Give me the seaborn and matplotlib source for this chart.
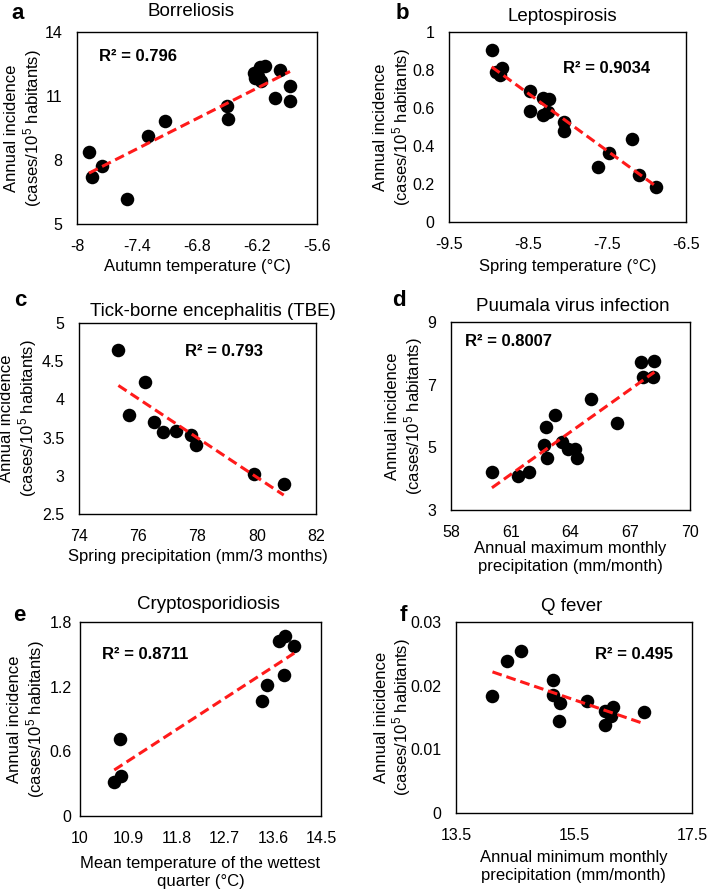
import matplotlib
matplotlib.use("Agg")
import matplotlib.pyplot as plt
from matplotlib.ticker import FuncFormatter
import seaborn as sns

# values
bor_x = [-7.88, -7.85, -7.75, -7.50, -7.29, -7.12, -6.50, -6.49, -6.23, -6.22, -6.17,
         -6.12, -6.16, -6.19, -5.97, -6.02, -5.87, -5.87]
bor_y = [8.38, 7.21, 7.73, 6.18, 9.13, 9.83, 10.52, 9.94, 12.08, 11.82, 12.36,
         12.41, 11.71, 11.95, 12.21, 10.91, 11.46, 10.76]

lep_x = [-8.96, -8.90, -8.83, -8.85, -8.47, -8.48, -8.31, -8.23, -8.31, -8.25, -8.04,
         -8.04, -7.47, -7.62, -7.19, -7.10, -6.88]
lep_y = [0.907, 0.792, 0.810, 0.776, 0.692, 0.586, 0.651, 0.650, 0.562, 0.581, 0.528,
         0.481, 0.364, 0.290, 0.438, 0.246, 0.185]

tbe_x = [75.33, 76.23, 75.70, 76.54, 76.85, 77.28, 77.77, 77.94, 79.92, 80.91]
tbe_y = [4.64, 4.23, 3.80, 3.70, 3.57, 3.58, 3.54, 3.40, 3.03, 2.89]

puu_x = [60.06, 61.39, 61.90, 62.78, 62.68, 62.82, 63.23, 63.57, 63.90, 64.24, 64.32,
         65.02, 66.33, 67.55, 67.67, 68.22, 68.13]
puu_y = [4.22, 4.09, 4.22, 5.64, 5.08, 4.65, 6.04, 5.18, 4.94, 4.94, 4.65,
         6.55, 5.77, 7.72, 7.26, 7.77, 7.26]

cry_x = [10.64, 10.76, 10.74, 13.40, 13.50, 13.80, 13.72, 13.82, 14.00]
cry_y = [0.313, 0.372, 0.716, 1.063, 1.215, 1.310, 1.620, 1.667, 1.574]

qf_x = [14.12, 14.36, 14.61, 15.14, 15.15, 15.27, 15.24, 15.72, 16.02, 16.16, 16.13,
        16.02, 16.68]
qf_y = [0.01843, 0.02393, 0.02539, 0.02094, 0.01859, 0.01728, 0.0144, 0.01764, 0.01597,
        0.0166, 0.0153, 0.01377, 0.01586]

titles = ["Borreliosis", "Leptospirosis", "Tick-borne encephalitis (TBE)",
          "Puumala virus infection", "Cryptosporidiosis", "Q fever"]
letters = ["a", "b", "c", "d", "e", "f"]
r2_labels = ["R² = 0.796", "R² = 0.9034", "R² = 0.793", "R² = 0.8007", "R² = 0.8711", "R² = 0.495"]
xlabels = ["Autumn temperature (°C)", "Spring temperature (°C)",
           "Spring precipitation (mm/3 months)",
           "Annual maximum monthly\nprecipitation (mm/month)",
           "Mean temperature of the wettest\nquarter (°C)",
           "Annual minimum monthly\nprecipitation (mm/month)"]
ylabel = "Annual incidence\n(cases/10$^5$ habitants)"
ylabel_f = "Annual inicidence\n(cases/10$^5$ habitants)"
xticks = [[-8, -7.4, -6.8, -6.2, -5.6], [-9.5, -8.5, -7.5, -6.5], [74, 76, 78, 80, 82],
          [58, 61, 64, 67, 70], [10, 10.9, 11.8, 12.7, 13.6, 14.5], [13.5, 15.5, 17.5]]
yticks = [[5, 8, 11, 14], [0, 0.2, 0.4, 0.6, 0.8, 1], [2.5, 3, 3.5, 4, 4.5, 5],
          [3, 5, 7, 9], [0, 0.6, 1.2, 1.8], [0, 0.01, 0.02, 0.03]]

sns.set_style("white")
plt.rcParams['font.family'] = ['Liberation Sans', 'DejaVu Sans']
plt.rcParams['mathtext.fontset'] = 'custom'
plt.rcParams['mathtext.rm'] = 'Liberation Sans'
plt.rcParams['mathtext.it'] = 'Liberation Sans'
for key in ['text.color', 'axes.labelcolor', 'xtick.color', 'ytick.color']:
    plt.rcParams[key] = 'black'

fig = plt.figure(figsize=(7.09, 8.91), dpi=100)

# axes boxes [left, bottom, width, height] in figure fractions
boxes = [[0.1086, 0.7486, 0.3385, 0.2155], [0.6333, 0.7508, 0.3343, 0.2132],
         [0.1114, 0.4231, 0.3343, 0.2144], [0.6360, 0.4276, 0.3370, 0.2110],
         [0.1128, 0.0842, 0.3400, 0.2177], [0.6430, 0.0875, 0.3330, 0.2144]]
r2_pos = [(0.092, 0.87), (0.48, 0.81), (0.447, 0.85), (0.06, 0.894), (0.09, 0.83), (0.588, 0.83)]
letter_pos = [(0.016, 0.997), (0.558, 0.997), (0.020, 0.674), (0.553, 0.674), (0.018, 0.321), (0.563, 0.321)]
title_x = [0.475, 0.48, 0.567, 0.51, 0.533, 0.49]
title_pad = [11.5, 8, 5, 8, 9.5, 8]
ytick_pad = [10.5, 10.5, 10.5, 10.5, 6, 10.5]
xlab_y = [-0.180, -0.192, -0.181, -0.167, -0.208, -0.196]
ylab_x = [-0.138, -0.152, -0.169, -0.110, -0.137, -0.181]

data = [(bor_x, bor_y), (lep_x, lep_y), (tbe_x, tbe_y), (puu_x, puu_y), (cry_x, cry_y), (qf_x, qf_y)]

for i, (xs, ys) in enumerate(data):
    ax = fig.add_axes(boxes[i])
    sns.regplot(x=xs, y=ys, ax=ax, ci=None, truncate=True,
                scatter_kws=dict(s=95, color="black", alpha=1, linewidths=0, zorder=2),
                line_kws=dict(color="#ff1a1a", lw=2.2, ls=(0, (3.2, 1.6)), zorder=3))
    ax.set_xlim(xticks[i][0], xticks[i][-1])
    ax.set_ylim(yticks[i][0], yticks[i][-1])
    ax.set_xticks(xticks[i])
    ax.set_yticks(yticks[i])
    fmt = FuncFormatter(lambda v, p: f"{v:g}")
    ax.xaxis.set_major_formatter(fmt)
    ax.yaxis.set_major_formatter(fmt)
    ax.tick_params(axis="x", length=0, labelsize=11.5, pad=11)
    ax.tick_params(axis="y", length=0, labelsize=11.5, pad=ytick_pad[i])
    for sp in ax.spines.values():
        sp.set_color("black")
        sp.set_linewidth(1)
    ax.set_title(titles[i], fontsize=13.5, pad=title_pad[i], x=title_x[i])
    ax.set_xlabel(xlabels[i], fontsize=12, linespacing=1.25)
    ax.set_ylabel(ylabel_f if i == 5 else ylabel, fontsize=12, linespacing=1.1)
    ax.xaxis.set_label_coords(0.5, xlab_y[i])
    ax.yaxis.set_label_coords(ylab_x[i], 0.5)
    ax.text(r2_pos[i][0], r2_pos[i][1], r2_labels[i], transform=ax.transAxes,
            fontsize=12, fontweight="bold", ha="left", va="center")
    fig.text(letter_pos[i][0], letter_pos[i][1], letters[i], fontsize=16,
             fontweight="bold", ha="left", va="top")

fig.savefig("out.png", dpi=100)
